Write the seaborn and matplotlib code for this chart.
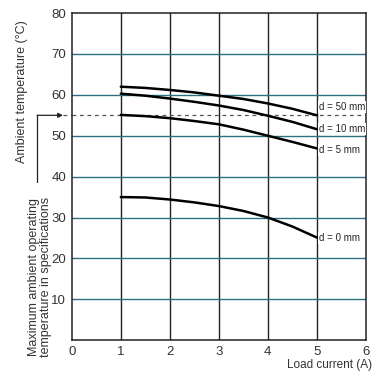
import pandas as pd
import matplotlib.pyplot as plt
import seaborn as sns

# load current (A) and ambient temperature (degC)
current = [1, 1.5, 2, 2.5, 3, 3.5, 4, 4.5, 5]
temp_d50 = [62.0, 61.7, 61.2, 60.6, 59.8, 59.0, 57.9, 56.6, 55.0]
temp_d10 = [60.3, 59.8, 59.1, 58.3, 57.4, 56.3, 54.9, 53.4, 51.6]
temp_d5 = [55.1, 54.8, 54.3, 53.6, 52.8, 51.5, 50.0, 48.5, 46.9]
temp_d0 = [35.0, 34.9, 34.4, 33.7, 32.8, 31.6, 30.0, 27.8, 25.1]

series = ['d = 50 mm', 'd = 10 mm', 'd = 5 mm', 'd = 0 mm']
label_y = [57.0, 51.7, 46.6, 25.0]
spec_temp = 55

x_ticks = [0, 1, 2, 3, 4, 5, 6]
y_ticks = [10, 20, 30, 40, 50, 60, 70, 80]

df = pd.DataFrame({
    'current': current * 4,
    'temp': temp_d50 + temp_d10 + temp_d5 + temp_d0,
    'd': [s for s in series for _ in current],
})

sns.set_style('white')
plt.rcParams['font.family'] = ['Liberation Sans', 'DejaVu Sans']

fig = plt.figure(figsize=(3.76, 3.75), dpi=100)
ax = fig.add_axes([0.191, 0.093, 0.782, 0.872])

# grid: vertical dark, horizontal teal-ish like the scan
for x in x_ticks[1:-1]:
    ax.axvline(x, color='#222222', lw=1.0, zorder=1)
for y in y_ticks[:-1]:
    ax.axhline(y, color='#2a7280', lw=1.0, zorder=1)

ax.axhline(spec_temp, color='#555555', lw=0.9, ls=(0, (3, 3)), zorder=1.5)

sns.lineplot(data=df, x='current', y='temp', hue='d', palette=['black'] * 4,
             lw=1.8, legend=False, ax=ax, zorder=3)

for s, yy in zip(series, label_y):
    ax.text(5.04, yy, s, fontsize=7, va='center', ha='left',
            family=['Liberation Sans Narrow', 'Liberation Sans'],
            bbox=dict(facecolor='white', edgecolor='none', pad=0.6), zorder=4)

ax.set_xlim(0, 6)
ax.set_ylim(0, 80)
ax.set_xticks(x_ticks)
ax.set_yticks(y_ticks)
ax.tick_params(length=0, labelsize=9.5, colors='#333333', pad=4)
ax.set_xlabel('')
ax.set_ylabel('')
for sp in ax.spines.values():
    sp.set_color('#222222')
    sp.set_linewidth(1.1)

# bracket arrow from the spec label to the 55 degC level
ax.annotate('', xy=(-0.18, spec_temp), xytext=(-0.71, spec_temp),
            arrowprops=dict(arrowstyle='-|>', color='#222222', lw=0.9,
                            mutation_scale=7, shrinkA=0, shrinkB=0),
            annotation_clip=False)
ax.plot([-0.71, -0.71], [spec_temp, 38.8], color='#222222', lw=0.9,
        clip_on=False)
ax.plot([-0.18, 0], [spec_temp, spec_temp], color='#555555', lw=0.9,
        ls=(0, (3, 3)), clip_on=False)

fig.text(22 / 376, 1 - 92 / 375, 'Ambient temperature (°C)', rotation=90,
         fontsize=9, color='#333333', ha='center', va='center')
fig.text(40 / 376, 1 - 277 / 375,
         'Maximum ambient operating\ntemperature in specifications',
         rotation=90, fontsize=9, color='#333333', ha='center', va='center',
         linespacing=1.0)
fig.text(372 / 376, 1 - 365 / 375, 'Load current (A)', fontsize=8.5,
         color='#333333', ha='right', va='center')

fig.savefig('out.png', dpi=100)
